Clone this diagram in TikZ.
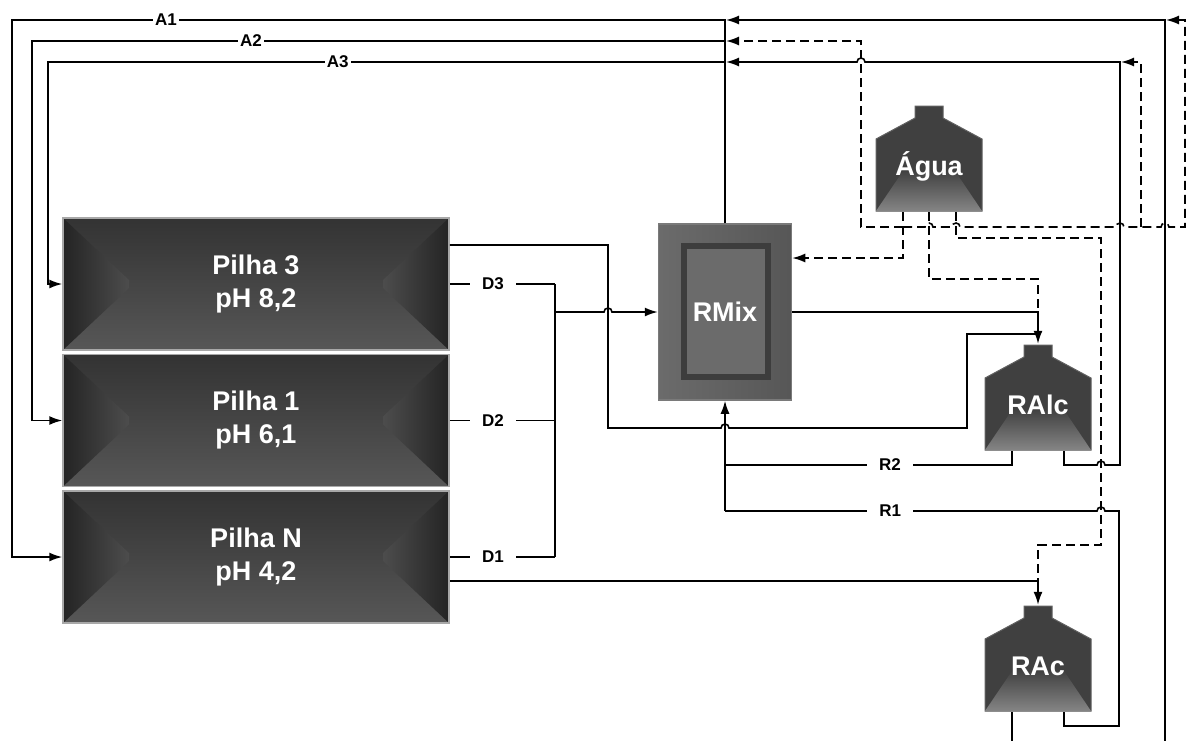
\documentclass[tikz,border=0pt]{standalone}
\usepackage{fontspec}
\setmainfont{Liberation Sans}
\usetikzlibrary{positioning,calc,arrows.meta}
\usepackage{xcolor}
\definecolor{pilhaedge}{HTML}{A8A8A8}
\definecolor{tankgray}{HTML}{404040}

% small hop where a line crosses another one
\newcommand{\hopright}[2]{-- (#1-4,#2) arc[start angle=180,end angle=0,radius=4pt]}
\newcommand{\hopleft}[2]{-- (#1+4,#2) arc[start angle=0,end angle=180,radius=4pt]}

\begin{document}
\begin{tikzpicture}[x=1pt, y=-1pt,
  node distance=3pt,
  flow/.style={line width=1.6pt, black},
  water/.style={flow, dash pattern=on 9pt off 5pt},
  arr/.style={-{Latex[length=13pt,width=9pt]}},
  lbl/.style={fill=white, inner xsep=2pt, inner ysep=1pt,
              font=\fontsize{17}{19}\selectfont\bfseries},
  lblw/.style={lbl, inner xsep=12pt},
  pilha/.style={draw=pilhaedge, line width=1.5pt, fill=black!70,
              minimum width=386pt, minimum height=132pt, inner sep=0pt,
              text=white, align=center, font=\fontsize{27}{33}\selectfont\bfseries,
              path picture={
                \path (path picture bounding box.north west) coordinate (bw)
                      (path picture bounding box.south east) coordinate (be);
                \shade[top color=black!80, middle color=black!42, bottom color=black!66]
                  (bw) rectangle (be);
                \shade[left color=black!86, right color=black!70]
                  (bw) -- ($(bw)+(66,62)$) -- ($(bw|-be)+(66,-62)$) -- (bw|-be) -- cycle;
                \shade[left color=black!70, right color=black!86]
                  (bw-|be) -- ($(bw-|be)+(-66,62)$) -- ($(be)+(-66,-62)$) -- (be) -- cycle;
              }},
  tank/.style={fill=white, minimum width=108pt, minimum height=107pt, inner sep=0pt,
              text=white, font=\fontsize{27}{33}\selectfont\bfseries,
              text height=34pt, text depth=0pt,
              path picture={
                \path (path picture bounding box.north west) coordinate (tw);
                \fill[tankgray, draw=black!62, line width=1pt]
                  ($(tw)+(40,1)$) -- ($(tw)+(68,1)$) -- ($(tw)+(68,13)$) -- ($(tw)+(107,34)$)
                  -- ($(tw)+(107,106)$) -- ($(tw)+(1,106)$) -- ($(tw)+(1,34)$)
                  -- ($(tw)+(40,13)$) -- cycle;
                \shade[top color=black!74, bottom color=black!48]
                  ($(tw)+(1,106)$) -- ($(tw)+(107,106)$) -- ($(tw)+(80,66)$)
                  -- ($(tw)+(28,66)$) -- cycle;
              }},
  mixer/.style={draw=black!52, line width=1.5pt, fill=black!62,
              minimum width=133pt, minimum height=176pt, inner sep=0pt,
              text=white, font=\fontsize{27}{33}\selectfont\bfseries,
              path picture={
                \path (path picture bounding box.north west) coordinate (mw)
                      (path picture bounding box.south east) coordinate (me);
                \shade[left color=black!58, right color=black!66] (mw) rectangle (me);
                \fill[black!76] ($(mw)+(22,19)$) rectangle ($(me)+(-21,-20)$);
                \fill[black!58] ($(mw)+(28,25)$) rectangle ($(me)+(-27,-26)$);
              }}
]
  \useasboundingbox (0,0) rectangle (1186,740);

  % Stacks
  \node[pilha] (p3) at (256,284) {Pilha 3\\pH 8,2};
  \node[pilha, below=of p3] (p1) {Pilha 1\\pH 6,1};
  \node[pilha, below=of p1] (pN) {Pilha N\\pH 4,2};

  % Mixer and tanks
  \node[mixer] (rmix) at (725,312) {RMix};
  \node[tank] (agua) at (929,158.5) {Água};
  \node[tank] (ralc) at (1038,397.5) {RAlc};
  \node[tank] (rac)  at (1038,658.5) {RAc};

  % Outlets and junctions
  \coordinate (ag1) at ([xshift=-26pt]agua.south);
  \coordinate (ag2) at (agua.south);
  \coordinate (ag3) at ([xshift=27pt]agua.south);
  \coordinate (ra1) at ([xshift=-26pt]ralc.south);
  \coordinate (ra2) at ([xshift=26pt]ralc.south);
  \coordinate (rc1) at ([xshift=-26pt]rac.south);
  \coordinate (rc2) at ([xshift=26pt]rac.south);
  \coordinate (jA1) at (725,20);
  \coordinate (jA2) at (725,41);
  \coordinate (jA3) at (725,62);
  \coordinate (dbus) at (555,312);
  \coordinate (rbus) at (725,511);
  \coordinate (hdr) at (903,227);

  % Returns to the stacks
  \draw[flow, arr] (rmix.north) -- (jA1) -- node[lbl, pos=.784]{A1} (12,20) |- (pN.west);
  \draw[flow, arr] (jA2) -- node[lbl, pos=.684]{A2} (32,41) |- (p1.west);
  \draw[flow, arr] (jA3) -- node[lbl, pos=.572]{A3} (48,62) |- (p3.west);

  % Drains to the mixer
  \draw[flow] (p3.east) -- node[lblw, pos=.41]{D3} (p3.east -| dbus);
  \draw[flow] (p1.east) -- node[lblw, pos=.41]{D2} (p1.east -| dbus);
  \draw[flow] (pN.east) -- node[lblw, pos=.41]{D1} (pN.east -| dbus);
  \draw[flow] (p3.east -| dbus) -- (pN.east -| dbus);
  \draw[flow, arr] (dbus) \hopright{608}{312} -- (rmix.west);

  % Reactor feeds
  \draw[flow, arr] (rmix.east) -| (ralc.north);
  \draw[flow] ([yshift=39pt]p3.east) -| (608,428) \hopright{725}{428} -- (967,428) |- (1038,334);
  \draw[flow, arr] ([yshift=-24pt]pN.east) -| (rac.north);

  % Recycles
  \draw[flow] (ra1) -- (1012,465) -- node[lblw, pos=.425]{R2} (725,465);
  \draw[flow] (rc2) -- (1064,726) -- (1119,726) -- (1119,511) \hopleft{1101}{511}
    -- node[lblw, pos=.556]{R1} (rbus);
  \draw[flow, arr] (rbus) -- (rmix.south);
  \draw[flow, arr] (ra2) -- (1064,465) \hopright{1101}{465} -- (1120,465) -- (1120,62)
    \hopleft{861}{62} -- (726,62);
  \draw[flow, arr] (rc1) -- (1012,780) -| (1165,20) -- (726,20);

  % Water lines
  \draw[water, arr] (ag1) |- ([yshift=54pt]rmix.east);
  \draw[water] (ag2) |- (1038,279) -- (1038,312);
  \draw[water] (ag3) |- (1101,238) -- (1101,545) -| (1038,581);
  \draw[water, arr] (hdr) -- (861,227) -- (861,41) -- (726,41);
  \draw[water, arr] (hdr) \hopright{929}{227} \hopright{956}{227} \hopright{1120}{227}
    -- (1141,227) \hopright{1165}{227} -- (1185,227) -- (1185,20) -- (1166,20);
  \draw[water, arr] (1141,227) -- (1141,62) -- (1121,62);
\end{tikzpicture}
\end{document}
